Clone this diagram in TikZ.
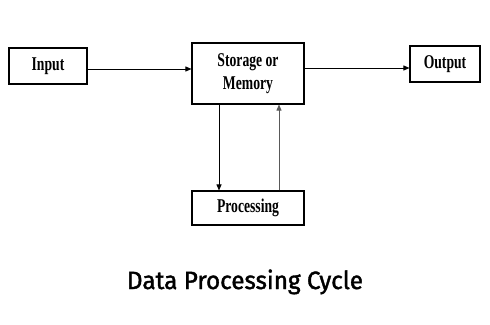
\documentclass[tikz,border=0pt]{standalone}
\usepackage{fontspec}
\setmainfont{Liberation Serif}
\newfontfamily\titlefont[FakeBold=1.6]{Fira Sans}
\usetikzlibrary{arrows.meta}
\newcommand{\narrow}[1]{\scalebox{0.7}[1]{#1}}
\begin{document}
\begin{tikzpicture}[x=1pt,y=-1pt,
  box/.style={draw, line width=1.1pt, rectangle, inner sep=0pt, align=center,
    font=\fontsize{19.5}{23}\selectfont\bfseries},
  arr/.style={line width=0.9pt, -{Triangle[length=6pt,width=5pt]}},
  ]
  \useasboundingbox (0,0) rectangle (490,324);
  \fill[white] (0,0) rectangle (490,324);

  % blocks of the cycle
  \node[box, minimum width=78pt, minimum height=36pt] (in) at (48,66)
    {\narrow{Input}};
  \node[box, minimum width=112pt, minimum height=61pt] (st) at (248,73.5)
    {\narrow{Storage or}\\\narrow{Memory}};
  \node[box, minimum width=70pt, minimum height=36pt] (out) at (445,64)
    {\narrow{Output}};
  \node[box, minimum width=112pt, minimum height=34pt] (pr) at (248,208)
    {\narrow{Processing}};

  % flow between the blocks
  \draw[arr] ([yshift=-3pt]in.east) -- ([yshift=-3pt]in.east -| st.west);
  \draw[arr] ([yshift=-4pt]out.west -| st.east) -- ([yshift=-4pt]out.west);
  \draw[arr] ([xshift=-29pt]st.south) -- ([xshift=-29pt]pr.north);
  \draw[arr, draw=gray!70!black, fill=gray!70!black] ([xshift=31pt]pr.north) -- ([xshift=31pt]st.south);

  % caption
  \node[font=\titlefont\fontsize{25}{30}\selectfont, anchor=base] (title) at (245,289)
    {\scalebox{0.97}[1]{Data Processing Cycle}};
\end{tikzpicture}
\end{document}
